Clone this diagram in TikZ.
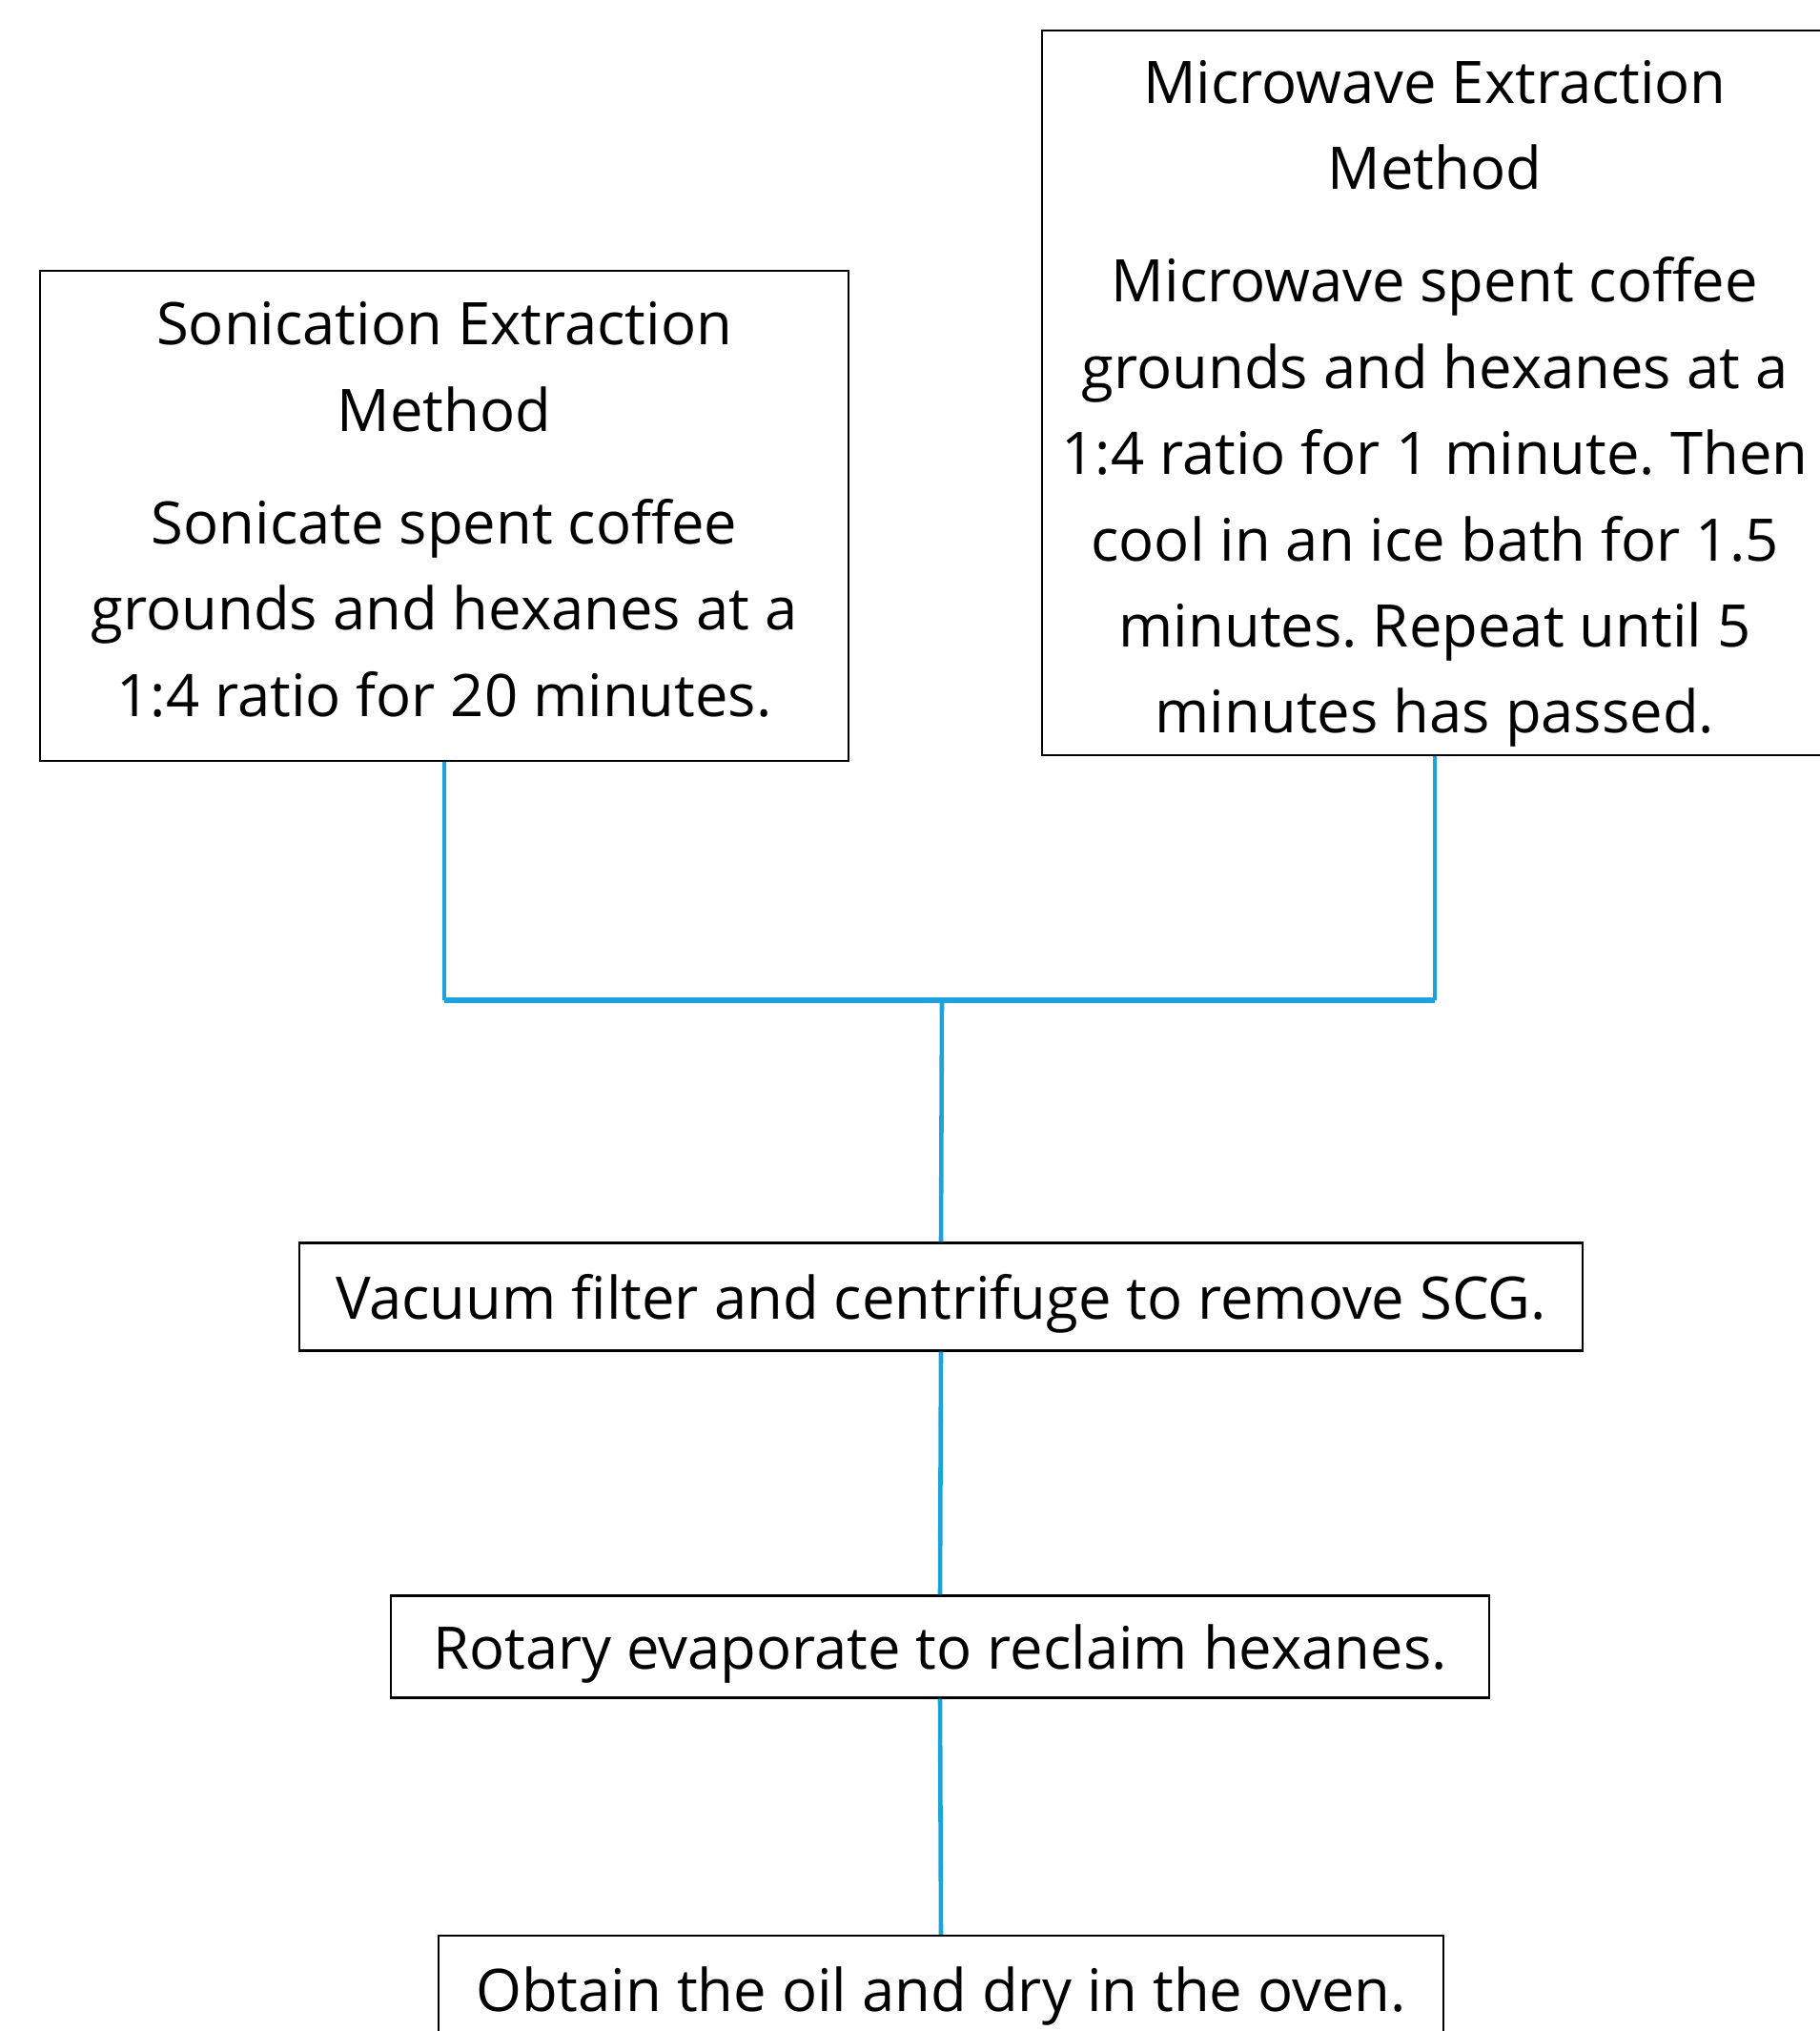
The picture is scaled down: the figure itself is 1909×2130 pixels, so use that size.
\documentclass[tikz,border=0pt]{standalone}
\usepackage{fontspec}
\setmainfont{Open Sans}
\usetikzlibrary{positioning}
\frenchspacing
\definecolor{linkblue}{RGB}{28,163,219}
\tikzset{
  stepbox/.style={draw, line width=0.6pt, align=center, inner sep=0pt,
    font=\fontsize{17.5}{25.7}\selectfont},
  onestep/.style={stepbox, text depth=0pt},
  link/.style={draw=linkblue, line width=1.3pt},
  joinbar/.style={draw=linkblue, line width=1.8pt}
}

\begin{document}
\begin{tikzpicture}[x=0.01cm, y=-0.01cm]
			%%%%% page %%%%%
			\useasboundingbox (0, 0) rectangle (1909, 2130);
			
			%%%%% methods %%%%%
			\node[stepbox, minimum width=8.48cm, minimum height=5.13cm] (sonic) at (466, 541)
			{Sonication Extraction\\Method\\[0.28cm]Sonicate spent coffee\\grounds and hexanes at a\\1:4 ratio for 20 minutes.\rule[-4pt]{0pt}{4pt}};
			\node[stepbox, minimum width=8.24cm, minimum height=7.59cm] (micro) at (1505, 412)
			{\rule{0pt}{19.3pt}Microwave Extraction\\Method\\[0.28cm]Microwave spent coffee\\grounds and hexanes at a\\1:4 ratio for 1 minute. Then\\cool in an ice bath for 1.5\\minutes. Repeat until 5\\minutes has passed.};
			
			%%%%% steps %%%%%
			\node[onestep, minimum width=13.46cm, minimum height=1.13cm] (filter) at (987, 1360)
			{Vacuum filter and centrifuge to remove SCG.};
			\node[onestep, minimum width=11.52cm, minimum height=1.07cm] (rotary) at (986, 1727)
			{Rotary evaporate to reclaim hexanes.};
			\node[onestep, minimum width=10.53cm, minimum height=1.12cm] (oil) at (987, 2086)
			{Obtain the oil and dry in the oven.};
			
			%%%%% connectors %%%%%
			\coordinate (bar) at (988, 1049);
			\draw[link] (sonic.south) -- (sonic.south |- bar);
			\draw[link] (micro.south) -- (micro.south |- bar);
			\draw[joinbar] (sonic.south |- bar) -- (micro.south |- bar);
			\draw[link] (bar) -- (filter.north);
			\draw[link] (filter.south) -- (rotary.north);
			\draw[link] (rotary.south) -- (oil.north);
\end{tikzpicture}
\end{document}
